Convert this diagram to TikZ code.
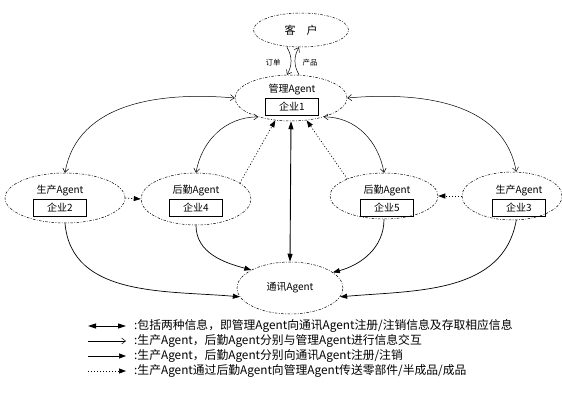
\documentclass[tikz,border=0pt]{standalone}
\usepackage{fontspec}
\setmainfont{Noto Sans CJK SC}
\usetikzlibrary{positioning,arrows.meta,shapes.geometric}

\begin{document}
\begin{tikzpicture}[x=1pt, y=1pt,
  font=\fontsize{10}{12}\selectfont, node distance=1pt,
  agent/.style={ellipse, draw, line width=0.5pt, inner sep=0pt,
    dash pattern=on 2.5pt off 1.5pt on 0.8pt off 1.5pt},
  qy/.style={draw, line width=0.9pt, minimum width=53pt, minimum height=17pt, inner sep=1pt},
  lbl/.style={inner sep=1pt},
  key/.style={anchor=west, inner sep=0pt, font=\fontsize{11.8}{13}\selectfont},
  info/.style={line width=0.5pt, >={Straight Barb[length=4pt,width=6pt]}, <->},
  reg/.style={line width=0.7pt, >={Triangle[length=7pt,width=5pt]}, ->},
  part/.style={line width=0.7pt, dash pattern=on 1pt off 2pt, >={Triangle[length=7pt,width=5pt]}, ->},
  both/.style={line width=0.9pt, >={Triangle[length=8pt,width=5pt]}, <->}]
\useasboundingbox (0,0) rectangle (562,392);

\node[agent, minimum width=95pt, minimum height=34pt, font=\fontsize{11}{13}\selectfont] (kh) at (301,362) {客\quad 户};
\node[agent, minimum width=112pt, minimum height=46pt] (gl) at (291,294) {};
\node[lbl] (glt) at (292,302) {管理Agent};
\node[qy, below=of glt] (glb) {企业1};

\node[agent, minimum width=120pt, minimum height=50pt] (sc2) at (65,194) {};
\node[lbl] (sc2t) at (60,201) {生产Agent};
\node[qy, below=of sc2t] (sc2b) {企业2};
\node[agent, minimum width=110pt, minimum height=52pt] (hq4) at (196,193) {};
\node[lbl] (hq4t) at (196,201) {后勤Agent};
\node[qy, below=of hq4t] (hq4b) {企业4};
\node[agent, minimum width=108pt, minimum height=46pt] (hq5) at (384,196) {};
\node[lbl] (hq5t) at (387,201) {后勤Agent};
\node[qy, below=of hq5t] (hq5b) {企业5};
\node[agent, minimum width=100pt, minimum height=48pt] (sc3) at (512,196) {};
\node[lbl] (sc3t) at (519,201) {生产Agent};
\node[qy, below=of sc3t] (sc3b) {企业3};
\node[agent, minimum width=106pt, minimum height=52pt] (tx) at (290,104) {通讯Agent};

\draw[info, ->] ([xshift=-14pt]kh.south) to[bend left=30] ([xshift=-4pt]gl.north);
\draw[info, ->] ([xshift=8pt]gl.north) to[bend left=30] ([xshift=-2pt]kh.south);
\node[font=\fontsize{7.5}{9}\selectfont] (dd) at (273,329) {订单};
\node[font=\fontsize{7.5}{9}\selectfont] (cp) at (310,329) {产品};

\draw[info] (sc2.north) to[out=80, in=175] (gl.west);
\draw[info] (hq4.north) to[out=80, in=180] (gl.210);
\draw[info] (hq5.north) to[out=100, in=0] (gl.330);
\draw[info] (sc3.80) to[out=100, in=5] (gl.east);
\draw[both] (gl.south) -- (tx.north);
\draw[part] (sc2.east) -- (hq4.west);
\draw[part] (sc3.west) -- (hq5.east);
\draw[part] (hq4.20) -- (gl.235);
\draw[part] (hq5.155) -- (gl.305);
\draw[reg] (sc2.south) to[out=-85, in=175] (tx.190);
\draw[reg] (hq4.south) to[out=-90, in=165] (tx.155);
\draw[reg] (hq5.south) to[out=-90, in=15] (tx.20);
\draw[reg] (sc3.-80) to[out=-100, in=5] (tx.-10);

\node[key] (k1) at (134,66) {:包括两种信息，即管理Agent向通讯Agent注册/注销信息及存取相应信息};
\node[key] (k2) at (134,51) {:生产Agent，后勤Agent分别与管理Agent进行信息交互};
\node[key] (k3) at (134,36) {:生产Agent，后勤Agent分别向通讯Agent注册/注销};
\node[key] (k4) at (134,21) {:生产Agent通过后勤Agent向管理Agent传送零部件/半成品/成品};
\draw[both] ([xshift=-46pt]k1.west) -- ([xshift=-8pt]k1.west);
\draw[info, ->] ([xshift=-46pt]k2.west) -- ([xshift=-8pt]k2.west);
\draw[reg] ([xshift=-46pt]k3.west) -- ([xshift=-8pt]k3.west);
\draw[part] ([xshift=-46pt]k4.west) -- ([xshift=-8pt]k4.west);
\end{tikzpicture}
\end{document}
